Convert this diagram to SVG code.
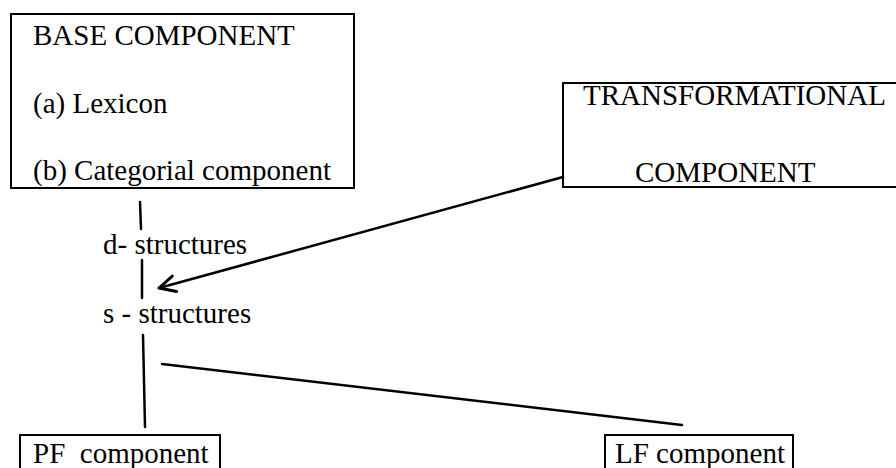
<svg xmlns="http://www.w3.org/2000/svg" width="896" height="468" viewBox="0 0 896 468">
<style>
text{font-family:"Liberation Serif","Times New Roman",serif;font-size:29px;fill:#000;white-space:pre}
.box{fill:none;stroke:#000;stroke-width:2}
.ln{stroke:#000;stroke-width:2.5;fill:none;stroke-linecap:round}
</style>
<defs>
<marker id="arr" viewBox="0 0 22 22" refX="19" refY="11" markerWidth="22" markerHeight="22" markerUnits="userSpaceOnUse" orient="auto">
<path d="M3,3 L19,11 L3,19" fill="none" stroke="#000" stroke-width="3" stroke-linecap="round" stroke-linejoin="round"/>
</marker>
</defs>
<rect width="896" height="468" fill="#fff"/>
<g id="base">
<rect class="box" x="11" y="14" width="343" height="174"/>
<text x="33" y="45">BASE COMPONENT</text>
<text x="33" y="113">(a) Lexicon</text>
<text x="33" y="180">(b) Categorial component</text>
</g>
<g id="transformational">
<path class="box" d="M899,83 L563,83 L563,187 L899,187"/>
<text x="583" y="105">TRANSFORMATIONAL</text>
<text x="635" y="182">COMPONENT</text>
</g>
<g id="dstructures"><text x="103" y="254">d- structures</text></g>
<g id="sstructures"><text x="103" y="323">s - structures</text></g>
<g id="pf">
<path class="box" d="M20,470 L20,435 L220,435 L220,470"/>
<text x="33" y="463">PF  component</text>
</g>
<g id="lf">
<path class="box" d="M605,470 L605,435 L793,435 L793,470"/>
<text x="615" y="463">LF component</text>
</g>
<g id="connectors">
<line class="ln" x1="140" y1="202" x2="141" y2="229"/>
<line class="ln" x1="142" y1="260" x2="142" y2="298"/>
<line class="ln" x1="143" y1="335" x2="145" y2="427"/>
<line class="ln" x1="162" y1="364" x2="682" y2="425"/>
<line class="ln" x1="563" y1="177" x2="159" y2="288" marker-end="url(#arr)"/>
</g>
</svg>
